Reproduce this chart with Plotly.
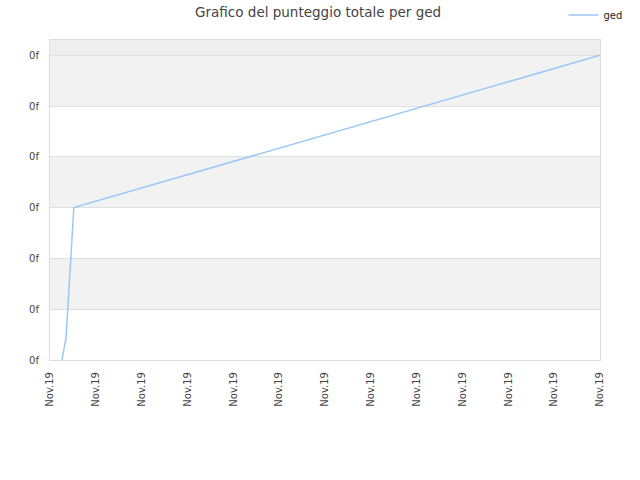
import plotly.graph_objects as go

# data (days into Nov 2019, score)
days = [0.26, 0.35, 0.52, 12.0]
score = [0.0, 0.43, 3.0, 6.0]

x_ticks = list(range(13))
x_labels = ["Nov.19"] * 13
y_ticks = list(range(7))
y_labels = ["0f"] * 7

fig = go.Figure()
fig.add_trace(go.Scatter(x=days, y=score, mode="lines", name="ged",
                         line=dict(color="#9cc8f7", width=1.5)))

# alternating background bands
shapes = []
for lo, hi in [(1, 2), (3, 4), (5, 6)]:
    shapes.append(dict(type="rect", xref="paper", yref="y", x0=0, x1=1, y0=lo, y1=hi,
                       fillcolor="#f2f2f2", line_width=0, layer="below"))
shapes.append(dict(type="rect", xref="paper", yref="y", x0=0, x1=1, y0=6, y1=6.3,
                   fillcolor="#eeeeee", line_width=0, layer="below"))

fig.update_layout(
    width=640, height=480,
    margin=dict(l=50, r=40, t=40, b=120, autoexpand=False),
    paper_bgcolor="white", plot_bgcolor="white",
    font=dict(family="DejaVu Sans", size=10, color="#444"),
    title=dict(text="Grafico del punteggio totale per ged", x=0.497, xanchor="center",
               y=0.975, yanchor="middle", font=dict(size=13.5, color="#444")),
    legend=dict(x=1.05, y=1.078, xanchor="right", yanchor="middle", itemwidth=30,
                font=dict(size=10, color="#222"), bgcolor="rgba(0,0,0,0)"),
    showlegend=True,
    shapes=shapes,
    xaxis=dict(range=[0, 12], tickvals=x_ticks, ticktext=x_labels, tickangle=-90,
               showgrid=False, zeroline=False, showline=True, linecolor="#dddddd",
               mirror=True, ticks="", ticklabelstandoff=7),
    yaxis=dict(range=[0, 6.3], tickvals=y_ticks, ticktext=y_labels,
               showgrid=True, gridcolor="#e0e0e0", zeroline=False, showline=True,
               linecolor="#dddddd", mirror=True, ticks="", ticklabelstandoff=8),
)

# drop the browser's default 8px body margin so the figure sits at the page corner
fig.write_html("out.html", config={"displayModeBar": False},
               post_script="document.body.style.margin='0px';")
